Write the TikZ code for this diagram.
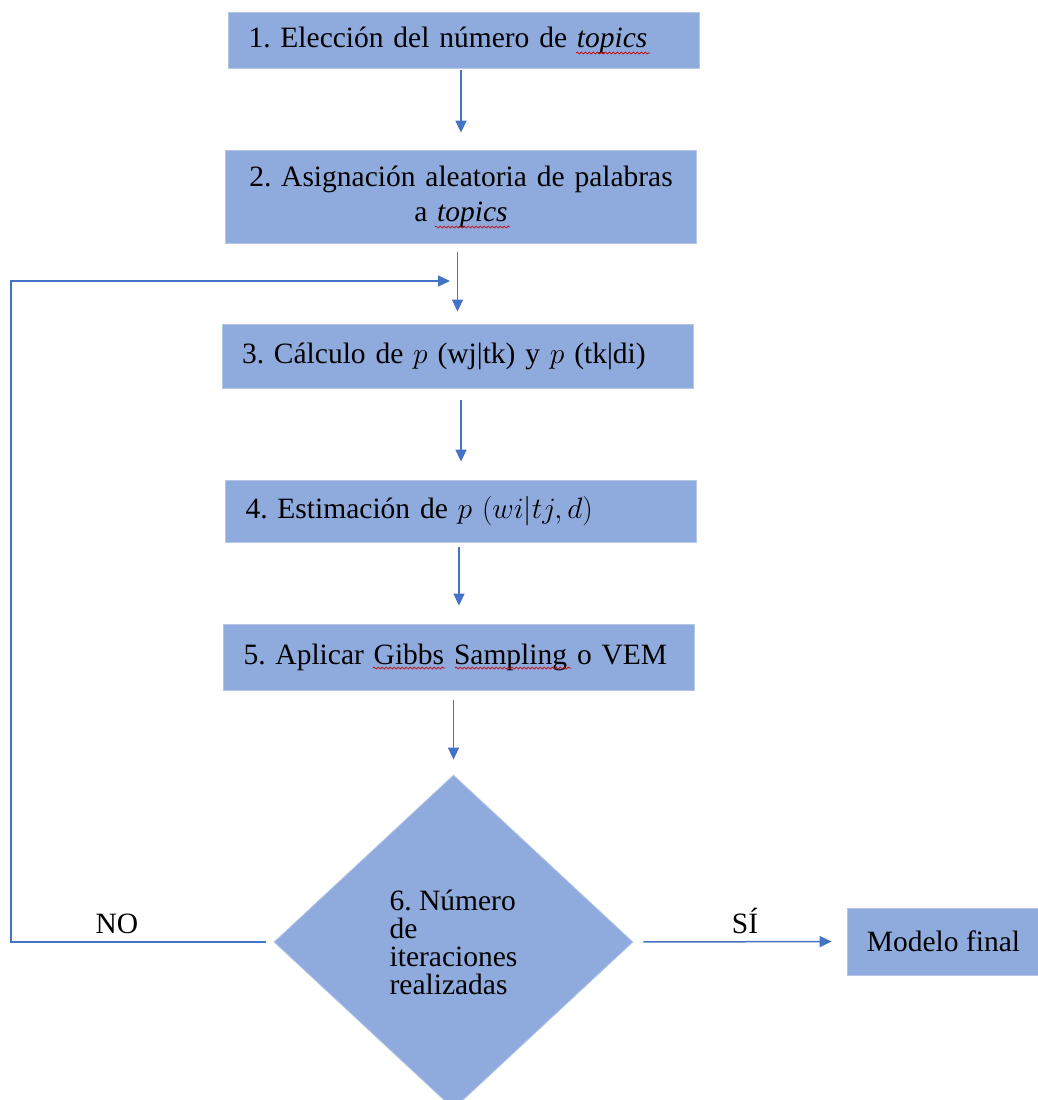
\RequirePackage{fix-cm}
\documentclass[tikz,border=0pt]{standalone}
\usepackage{fontspec}
\setmainfont{Liberation Serif}
\usetikzlibrary{arrows.meta}
\usetikzlibrary{shapes.geometric}
\usetikzlibrary{decorations.pathmorphing}

\definecolor{boxfill}{RGB}{143,170,220}
\definecolor{boxedge}{RGB}{180,199,231}
\definecolor{flowline}{RGB}{68,114,196}

\frenchspacing

\tikzset{
	every node/.style={font=\fontsize{29.5}{35}\selectfont},
	stage/.style={
		draw=boxedge,
		fill=boxfill,
		rectangle,
		line width=0.8pt,
		inner xsep=20pt,
		text width=431pt,
		align=left,
	},
	decision/.style={
		draw=boxedge,
		fill=boxfill,
		diamond,
		line width=0.8pt,
		minimum width=359pt,
		minimum height=334pt,
		inner sep=0pt,
		align=left,
		font=\fontsize{29.5}{28}\selectfont,
	},
	flow/.style={
		draw=flowline,
		line width=1.5pt,
		-{Triangle[length=12pt,width=11pt]}
	},
	answer/.style={
		anchor=base,
		inner sep=0pt,
	},
	spellmark/.style={
		draw=red!80!black,
		line width=0.7pt,
		decorate,
		decoration={snake, amplitude=1pt, segment length=4pt},
	},
}

\begin{document}
\begin{tikzpicture}[x=1pt,y=1pt]
	\useasboundingbox (0,0) rectangle (1037,-1100);

	\node[stage, minimum height=56pt] (topics) at (464,-40) {1. Elección del número de \textit{topics}};
	\node[stage, minimum height=93pt, inner xsep=10pt, text width=451pt, align=center] (assign) at (461,-196.5) {2. Asignación aleatoria de palabras\\a \textit{topics}};
	\node[stage, minimum height=64pt] (calcp) at (457.5,-356) {3. Cálculo de $p$ (wj|tk) y $p$ (tk|di)};
	\node[stage, minimum height=62pt] (estim) at (461,-511) {4. Estimación de $p\ (wi|tj,d)$};
	\node[stage, minimum height=66pt] (gibbs) at (459,-657) {5. Aplicar Gibbs Sampling o VEM};
	\node[decision] (iter) at (453.5,-942) {6. Número\\de\\iteraciones\\realizadas};
	\node[draw=boxedge, fill=boxfill, line width=0.8pt, minimum width=193pt, minimum height=67pt] (final) at (943.5,-941.5) {Modelo final};

	% spell-check marks
	\draw[spellmark] (576,-53) -- (650,-53);
	\draw[spellmark] (435,-227) -- (510,-227);
	\draw[spellmark] (373,-668) -- (445,-668);
	\draw[spellmark] (455,-668) -- (571,-668);

	\coordinate (nocorner) at (11,-281);
	\coordinate (noend) at (450,-281);

	\draw[flow, shorten <=2pt, shorten >=17pt] (topics.south -| assign.north) -- (assign.north);
	\draw[flow, shorten <=9pt, shorten >=12pt] (assign.south -| calcp.north) -- (calcp.north);
	\draw[flow, shorten <=12pt, shorten >=18pt] (calcp.south -| estim.north) -- (estim.north);
	\draw[flow, shorten <=5pt, shorten >=18pt] (estim.south -| gibbs.north) -- (gibbs.north);
	\draw[flow, shorten <=10pt, shorten >=15pt] (gibbs.south -| iter.north) -- (iter.north);

	\draw[flow, line width=1.2pt, shorten <=8pt] (iter.west) -| (nocorner) -- (noend);
	\draw[flow, shorten <=10pt, shorten >=15pt] (iter.east) -- (final.west);

	\node[answer] (no) at (117,-933) {NO};
	\node[answer] (si) at (745,-933) {SÍ};

\end{tikzpicture}
\end{document}
